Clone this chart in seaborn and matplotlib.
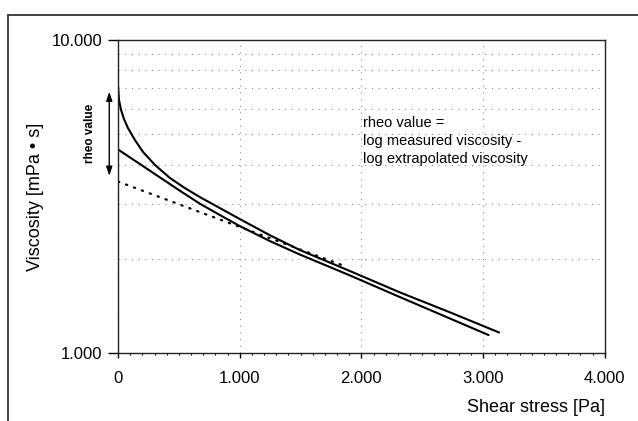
import matplotlib
matplotlib.use("Agg")
import matplotlib.pyplot as plt
from matplotlib.lines import Line2D
from matplotlib.ticker import FixedLocator, FixedFormatter, MultipleLocator, LogLocator, NullFormatter
import pandas as pd
import seaborn as sns

# measured flow curve (higher start), shear stress [Pa] vs viscosity [mPa s]
measured_x = [0, 8, 25, 49, 82, 139, 205, 303, 426, 549, 672, 836, 1000,
              1246, 1492, 1902, 2311, 2721, 3131]
measured_y = [7100, 6430, 5975, 5590, 5230, 4790, 4390, 3990, 3625, 3365, 3150, 2905, 2680,
              2380, 2135, 1830, 1565, 1352, 1163]

# second flow curve
second_x = [0, 57, 180, 344, 508, 672, 836, 1000, 1246, 1492, 1902, 2311, 2721, 3045]
second_y = [4470, 4320, 4015, 3640, 3300, 3000, 2760, 2545, 2280, 2065, 1772, 1512, 1292, 1141]

# extrapolated line (dotted)
extrap_x = [0, 1860]
extrap_y = [3530, 1897]

x_ticks = [0, 1000, 2000, 3000, 4000]
x_labels = ["0", "1.000", "2.000", "3.000", "4.000"]
y_ticks = [1000, 10000]
y_labels = ["1.000", "10.000"]

sns.set_theme(style="white")
plt.rcParams["font.family"] = ["Liberation Sans", "DejaVu Sans"]

fig = plt.figure(figsize=(6.38, 4.21), dpi=100)
ax = fig.add_axes([0.185, 0.1615, 0.763, 0.7435])

df_m = pd.DataFrame({"x": measured_x, "y": measured_y})
df_s = pd.DataFrame({"x": second_x, "y": second_y})
df_e = pd.DataFrame({"x": extrap_x, "y": extrap_y})

sns.lineplot(data=df_m, x="x", y="y", ax=ax, color="black", lw=1.5, sort=False)
sns.lineplot(data=df_s, x="x", y="y", ax=ax, color="black", lw=1.5, sort=False)
sns.lineplot(data=df_e, x="x", y="y", ax=ax, color="black", lw=1.6,
             linestyle=(0, (0.6, 3.2)), dash_capstyle="round", sort=False)

ax.set_yscale("log")
ax.set_xlim(0, 4000)
ax.set_ylim(1000, 10000)

ax.xaxis.set_major_locator(FixedLocator(x_ticks))
ax.xaxis.set_major_formatter(FixedFormatter(x_labels))
ax.xaxis.set_minor_locator(MultipleLocator(100))
ax.yaxis.set_major_locator(FixedLocator(y_ticks))
ax.yaxis.set_major_formatter(FixedFormatter(y_labels))
ax.yaxis.set_minor_locator(LogLocator(base=10, subs=range(2, 10)))
ax.yaxis.set_minor_formatter(NullFormatter())

ax.tick_params(axis="x", which="major", direction="out", length=3.5, width=1,
               pad=9.5, labelsize=12, color="black", labelcolor="black", bottom=True)
ax.tick_params(axis="x", which="minor", direction="out", length=1.6, width=0.8,
               color="black", bottom=True)
ax.tick_params(axis="y", which="major", direction="out", length=7, width=1,
               pad=4.5, labelsize=12, color="black", labelcolor="black", left=True)
ax.tick_params(axis="y", which="minor", length=0)

ax.grid(True, which="major", axis="x", color="#8a8a8a", lw=0.8, linestyle=(0, (1, 5)))
ax.grid(True, which="minor", axis="y", color="#8a8a8a", lw=0.8, linestyle=(0, (1, 5)))
ax.grid(False, which="major", axis="y")

for sp in ax.spines.values():
    sp.set_color("#222222")
    sp.set_linewidth(1.0)

ax.set_xlabel("Shear stress [Pa]", fontsize=13, color="black")
ax.xaxis.label.set_horizontalalignment("right")
ax.xaxis.label.set_verticalalignment("center")
ax.xaxis.set_label_coords(1.0, -0.1725)
ax.set_ylabel("Viscosity [mPa \u2022 s]", fontsize=13, color="black")
ax.yaxis.label.set_verticalalignment("center")
ax.yaxis.set_label_coords(-0.170, 0.5)

ax.text(0.504, 0.757, "rheo value =\nlog measured viscosity -\nlog extrapolated viscosity",
        transform=ax.transAxes, ha="left", va="top", fontsize=10.5, linespacing=1.38,
        color="black")

ax.annotate("", xy=(-0.018, 0.835), xytext=(-0.018, 0.566), xycoords="axes fraction",
            textcoords="axes fraction", annotation_clip=False,
            arrowprops=dict(arrowstyle="<|-|>,head_length=0.45,head_width=0.15",
                            color="black", lw=1.0, shrinkA=0, shrinkB=0))
ax.text(-0.0575, 0.703, "rheo value", transform=ax.transAxes, rotation=90,
        ha="center", va="center", fontsize=8.5, fontweight="bold", color="black")

# outer frame of the original figure
fig.add_artist(Line2D([0.0125, 0.0125], [0.0, 0.9644], transform=fig.transFigure,
                      color="#333333", lw=1.3))
fig.add_artist(Line2D([0.0125, 1.0], [0.9644, 0.9644], transform=fig.transFigure,
                      color="#333333", lw=1.3))

fig.savefig("out.png", dpi=100, facecolor="white")
